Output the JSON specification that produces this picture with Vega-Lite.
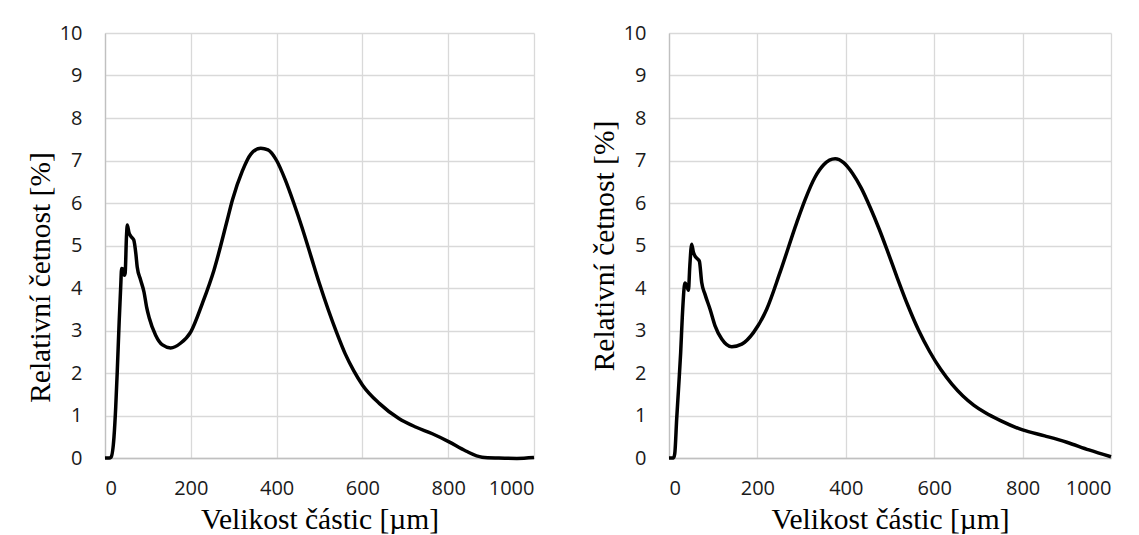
{
  "$schema": "https://vega.github.io/schema/vega-lite/v6.json",
  "padding": {"left": 25, "top": 23, "right": 5, "bottom": 0},
  "spacing": 48,
  "background": "white",
  "config": {
    "view": {"stroke": null},
    "axis": {
      "labelFont": "Open Sans", "labelFontSize": 20, "labelColor": "#1a1a1a",
      "titleFont": "Liberation Serif", "titleFontSize": 29.5, "titleFontWeight": "normal", "titleColor": "#000000",
      "gridColor": "#d9d9d9", "gridWidth": 1.3, "domainColor": "#c0c0c0", "domainWidth": 1.3,
      "ticks": false, "tickSize": 0
    },
    "axisX": {"labelPadding": 20, "titlePadding": 7},
    "axisY": {"labelPadding": 23, "titlePadding": 4}
  },
  "datasets": {
    "left": [
      {"x": 0, "y": 0}, {"x": 10, "y": 0}, {"x": 14, "y": 0.02}, {"x": 21, "y": 0.5}, {"x": 25, "y": 1.2},
      {"x": 28.7, "y": 2.07}, {"x": 33, "y": 3.2}, {"x": 36.6, "y": 4.03}, {"x": 38.8, "y": 4.46}, {"x": 42, "y": 4.45},
      {"x": 45, "y": 4.3}, {"x": 47, "y": 4.35}, {"x": 50, "y": 5.2}, {"x": 52, "y": 5.48}, {"x": 56, "y": 5.3},
      {"x": 60, "y": 5.22}, {"x": 67, "y": 5.13}, {"x": 72, "y": 4.8}, {"x": 75, "y": 4.5}, {"x": 83, "y": 4.19},
      {"x": 91, "y": 3.9}, {"x": 97, "y": 3.55}, {"x": 103, "y": 3.3}, {"x": 118, "y": 2.89}, {"x": 134, "y": 2.66},
      {"x": 153, "y": 2.59}, {"x": 176, "y": 2.7}, {"x": 200, "y": 2.97}, {"x": 227, "y": 3.64}, {"x": 254, "y": 4.42},
      {"x": 285, "y": 5.6}, {"x": 297, "y": 6.07}, {"x": 320, "y": 6.75}, {"x": 340, "y": 7.15}, {"x": 363, "y": 7.29},
      {"x": 380, "y": 7.25}, {"x": 400, "y": 7.0}, {"x": 420, "y": 6.55}, {"x": 440, "y": 6.0}, {"x": 460, "y": 5.4},
      {"x": 480, "y": 4.75}, {"x": 500, "y": 4.1}, {"x": 520, "y": 3.5}, {"x": 540, "y": 2.95}, {"x": 560, "y": 2.45},
      {"x": 580, "y": 2.05}, {"x": 600, "y": 1.72}, {"x": 640, "y": 1.28}, {"x": 685, "y": 0.93}, {"x": 724, "y": 0.73},
      {"x": 763, "y": 0.57}, {"x": 802, "y": 0.38}, {"x": 841, "y": 0.165}, {"x": 879, "y": 0.02}, {"x": 918, "y": 0},
      {"x": 960, "y": -0.01}, {"x": 1000, "y": 0.01}
    ],
    "right": [
      {"x": 0, "y": 0}, {"x": 10, "y": 0}, {"x": 13, "y": 0.1}, {"x": 17.4, "y": 0.92}, {"x": 22, "y": 1.7},
      {"x": 26.4, "y": 2.48}, {"x": 30, "y": 3.3}, {"x": 34.7, "y": 4.05}, {"x": 36.5, "y": 4.12}, {"x": 40, "y": 4.05},
      {"x": 44, "y": 3.95}, {"x": 47, "y": 4.5}, {"x": 51.3, "y": 5.03}, {"x": 55, "y": 4.85}, {"x": 58.9, "y": 4.75},
      {"x": 65, "y": 4.68}, {"x": 68.7, "y": 4.63}, {"x": 74, "y": 4.13}, {"x": 81.5, "y": 3.85}, {"x": 92.9, "y": 3.5},
      {"x": 104.2, "y": 3.11}, {"x": 119.3, "y": 2.8}, {"x": 142, "y": 2.62}, {"x": 164.7, "y": 2.68}, {"x": 191, "y": 2.95},
      {"x": 221, "y": 3.5}, {"x": 251, "y": 4.36}, {"x": 289, "y": 5.54}, {"x": 308, "y": 6.08}, {"x": 330, "y": 6.6},
      {"x": 350, "y": 6.9}, {"x": 376, "y": 7.04}, {"x": 395, "y": 6.95}, {"x": 415, "y": 6.7}, {"x": 435, "y": 6.35},
      {"x": 455, "y": 5.9}, {"x": 475, "y": 5.4}, {"x": 495, "y": 4.85}, {"x": 515, "y": 4.28}, {"x": 540, "y": 3.6},
      {"x": 565, "y": 3.0}, {"x": 590, "y": 2.5}, {"x": 615, "y": 2.08}, {"x": 640, "y": 1.74}, {"x": 665, "y": 1.46},
      {"x": 690, "y": 1.24}, {"x": 715, "y": 1.07}, {"x": 750, "y": 0.88}, {"x": 800, "y": 0.66}, {"x": 850, "y": 0.52},
      {"x": 900, "y": 0.37}, {"x": 950, "y": 0.19}, {"x": 1000, "y": 0.03}
    ]
  },
  "hconcat": [
    {
      "width": 429, "height": 425,
      "data": {"name": "left"},
      "mark": {"type": "line", "color": "#000000", "strokeWidth": 3.5, "interpolate": "monotone"},
      "encoding": {
        "x": {"field": "x", "type": "quantitative", "title": "Velikost částic [µm]",
              "scale": {"domain": [0, 1000], "nice": false}, "axis": {"values": [0, 200, 400, 600, 800, 1000], "format": "d"}},
        "y": {"field": "y", "type": "quantitative", "title": "Relativní četnost [%]",
              "scale": {"domain": [0, 10], "nice": false}, "axis": {"values": [0, 1, 2, 3, 4, 5, 6, 7, 8, 9, 10], "format": "d", "titleY": 244}}
      }
    },
    {
      "width": 442, "height": 425,
      "data": {"name": "right"},
      "mark": {"type": "line", "color": "#000000", "strokeWidth": 3.5, "interpolate": "monotone"},
      "encoding": {
        "x": {"field": "x", "type": "quantitative", "title": "Velikost částic [µm]",
              "scale": {"domain": [0, 1000], "nice": false}, "axis": {"values": [0, 200, 400, 600, 800, 1000], "format": "d"}},
        "y": {"field": "y", "type": "quantitative", "title": "Relativní četnost [%]",
              "scale": {"domain": [0, 10], "nice": false}, "axis": {"values": [0, 1, 2, 3, 4, 5, 6, 7, 8, 9, 10], "format": "d"}}
      }
    }
  ]
}
